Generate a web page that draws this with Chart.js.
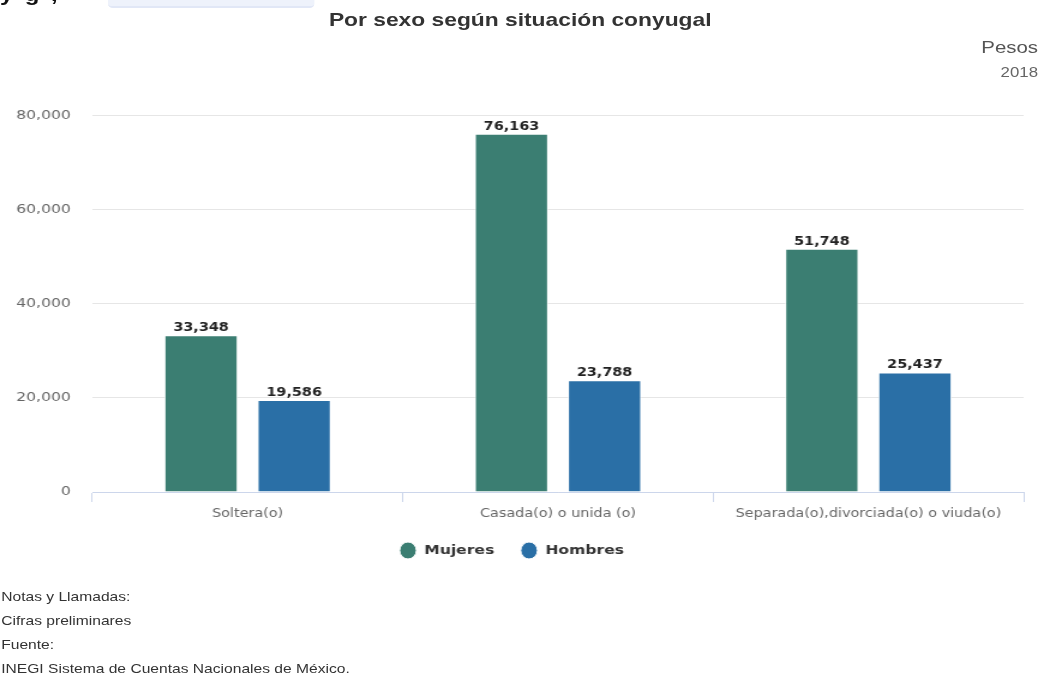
<!DOCTYPE html>
<html lang="es">

<head>
    <meta charset="UTF-8">
    <title>Por sexo según situación conyugal</title>

    <style>
        body {
            margin: 0;
            background: #fff;
            overflow: hidden;
        }

        /* the reference is stretched horizontally, so draw narrow and scale */
        .page {
            position: relative;
            width: 872px;
            height: 679px;
            transform: scaleX(1.2);
            transform-origin: 0 0;
            font-family: "Liberation Sans", Arial, sans-serif;
            color: #333;
        }

        .cut {
            position: absolute;
            left: 0;
            top: -16px;
            font-weight: bold;
            font-size: 20px;
            line-height: 20px;
            color: #111;
            word-spacing: 4px;
            white-space: pre;
        }

        .tab {
            position: absolute;
            left: 90px;
            top: 0;
            width: 172px;
            height: 6px;
            background: #eef2fb;
            border-bottom: 2px solid #e1e7f6;
            border-radius: 0 0 4px 4px;
        }

        .title {
            position: absolute;
            left: 0;
            width: 867px;
            top: 10px;
            text-align: center;
            font-weight: bold;
            font-size: 19px;
            line-height: 19px;
            color: #333;
        }

        .unit {
            position: absolute;
            right: 7px;
            top: 39px;
            font-size: 17px;
            line-height: 17px;
            color: #555;
        }

        .year {
            position: absolute;
            right: 7px;
            top: 65px;
            font-size: 14px;
            line-height: 14px;
            color: #666;
        }

        .notes {
            position: absolute;
            left: 1px;
            top: 585px;
            font-size: 13px;
            line-height: 24px;
            color: #333;
        }

        #chart {
            position: absolute;
            left: 0;
            top: 90px;
        }
    </style>
</head>

<body>
    <div class="page">
        <div class="cut">y g ,</div>
        <div class="tab"></div>
        <div class="title">Por sexo según situación conyugal</div>
        <div class="unit">Pesos</div>
        <div class="year">2018</div>

        <canvas id="chart" width="872" height="480" style="width:872px;height:480px"></canvas>

        <div class="notes">
            Notas y Llamadas:<br>
            Cifras preliminares<br>
            Fuente:<br>
            INEGI Sistema de Cuentas Nacionales de México.
        </div>
    </div>

    <script src="https://cdn.jsdelivr.net/npm/chart.js"></script>

    <script>
        const categories = ["Soltera(o)", "Casada(o) o unida (o)", "Separada(o),divorciada(o) o viuda(o)"];
        const mujeres = [33348, 76163, 51748];
        const hombres = [19586, 23788, 25437];
        const yTicks = [0, 20000, 40000, 60000, 80000];

        Chart.defaults.font.family = "'DejaVu Sans', Verdana, sans-serif";

        // value labels above each bar
        const barLabels = {
            id: "barLabels",
            afterDatasetsDraw(chart) {
                const ctx = chart.ctx;
                ctx.save();
                ctx.font = "bold 12px 'DejaVu Sans', Verdana, sans-serif";
                ctx.textAlign = "center";
                ctx.textBaseline = "alphabetic";
                ctx.lineJoin = "round";
                chart.data.datasets.forEach((ds, i) => {
                    chart.getDatasetMeta(i).data.forEach((bar, j) => {
                        const text = ds.data[j].toLocaleString("en-US");
                        ctx.strokeStyle = "#fff";
                        ctx.lineWidth = 2;
                        ctx.strokeText(text, bar.x, bar.y - 4);
                        ctx.fillStyle = "#222";
                        ctx.fillText(text, bar.x, bar.y - 4);
                    });
                });
                ctx.restore();
            }
        };

        let ctx = document.getElementById("chart").getContext("2d");
        let chart = new Chart(ctx, {
            type: "bar",
            data: {
                labels: categories,
                datasets: [{
                    label: "Mujeres",
                    data: mujeres,
                    backgroundColor: "#3b7e72",
                    borderColor: "#ffffff",
                    borderWidth: 1,
                    barPercentage: 0.79,
                    categoryPercentage: 0.6
                }, {
                    label: "Hombres",
                    data: hombres,
                    backgroundColor: "#2a6fa6",
                    borderColor: "#ffffff",
                    borderWidth: 1,
                    barPercentage: 0.79,
                    categoryPercentage: 0.6
                }]
            },
            options: {
                responsive: false,
                animation: false,
                layout: {
                    padding: { top: 24, right: 19, left: 0, bottom: 3 }
                },
                scales: {
                    x: {
                        grid: {
                            offset: true,
                            drawOnChartArea: false,
                            drawTicks: true,
                            tickLength: 10,
                            color: "#ccd6eb"
                        },
                        border: { color: "#ccd6eb" },
                        ticks: {
                            color: "#666",
                            font: { size: 12 },
                            padding: 5,
                            maxRotation: 0,
                            autoSkip: false
                        },
                        afterFit(scale) {
                            scale.height = 30;
                        }
                    },
                    y: {
                        min: 0,
                        max: 80000,
                        afterBuildTicks(scale) {
                            scale.ticks = yTicks.map(v => ({ value: v }));
                        },
                        grid: {
                            color: "#e6e6e6",
                            drawTicks: false
                        },
                        border: { display: false },
                        ticks: {
                            color: "#666",
                            font: { size: 13 },
                            padding: 18,
                            callback: v => v.toLocaleString("en-US")
                        },
                        afterFit(scale) {
                            scale.width = 77;
                        }
                    }
                },
                plugins: {
                    legend: {
                        position: "bottom",
                        labels: {
                            usePointStyle: true,
                            pointStyle: "circle",
                            boxHeight: 12,
                            pointStyleWidth: 14,
                            padding: 22,
                            color: "#333",
                            font: { size: 13, weight: "bold" }
                        }
                    },
                    tooltip: { enabled: false }
                }
            },
            plugins: [barLabels]
        });
    </script>
</body>

</html>
